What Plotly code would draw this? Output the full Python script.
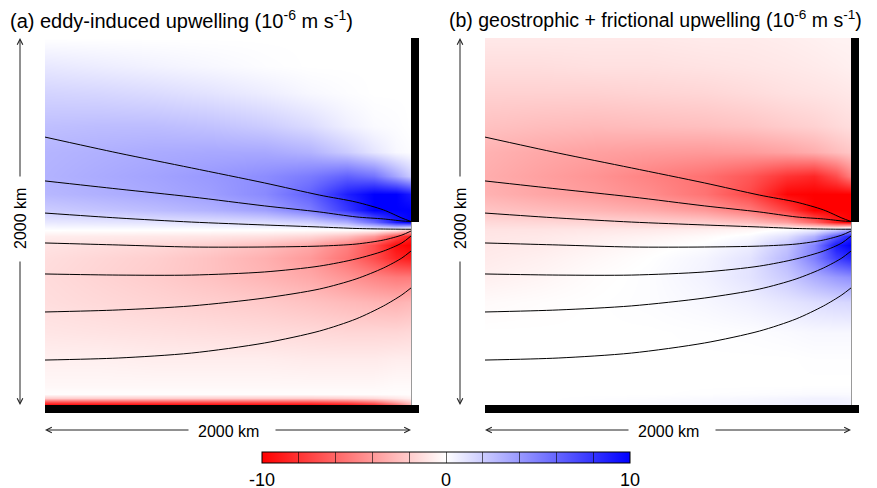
import plotly.graph_objects as go

# ---------------- data ----------------
X_KM = [0, 300, 600, 900, 1200, 1450, 1650, 1800, 1920, 2000]
Y_KM = [2000, 1850, 1700, 1520, 1380, 1250, 1150, 1060, 1000, 960, 920, 870,
        800, 700, 560, 400, 250, 110, 60, 38, 18, 0]

# (a) eddy-induced upwelling, 1e-6 m/s, rows follow Y_KM (top -> bottom)
W_EDDY = [
    [0.0, 0.0, 0.0, 0.0, 0.0, 0.0, 0.0, 0.0, 0.0, 0.0],
    [0.9, 0.7, 0.5, 0.3, 0.1, 0.0, 0.0, 0.0, 0.0, 0.0],
    [1.7, 1.6, 1.4, 1.1, 0.7, 0.3, 0.1, 0.0, 0.0, 0.0],
    [2.5, 2.6, 2.6, 2.4, 2.0, 1.4, 0.6, 0.2, 0.1, 0.0],
    [2.9, 3.1, 3.3, 3.4, 3.4, 3.0, 2.0, 1.0, 0.3, 0.1],
    [3.0, 3.3, 3.6, 4.0, 4.5, 5.2, 6.2, 5.5, 3.5, 2.0],
    [2.8, 3.1, 3.4, 3.8, 4.6, 6.2, 8.8, 10, 10, 9.0],
    [2.0, 2.3, 2.6, 3.0, 3.7, 5.1, 7.8, 10, 10, 10],
    [0.9, 1.0, 1.1, 1.2, 1.4, 1.9, 3.2, 5.8, 9.0, 10],
    [0.1, 0.1, 0.1, 0.1, 0.1, 0.1, 0.2, 0.3, 0.0, -1.5],
    [-0.7, -0.8, -0.9, -1.0, -1.2, -1.6, -2.5, -4.0, -7.0, -9.0],
    [-1.1, -1.3, -1.5, -1.9, -2.5, -3.4, -5.0, -7.0, -9.5, -10],
    [-1.3, -1.6, -1.9, -2.4, -3.1, -4.0, -5.5, -7.0, -8.5, -9.0],
    [-1.4, -1.7, -2.0, -2.4, -2.9, -3.4, -4.2, -4.8, -5.2, -5.2],
    [-1.3, -1.5, -1.7, -1.9, -2.1, -2.4, -2.7, -2.9, -3.0, -2.8],
    [-1.0, -1.1, -1.2, -1.3, -1.4, -1.5, -1.6, -1.6, -1.6, -1.5],
    [-0.6, -0.6, -0.7, -0.7, -0.7, -0.8, -0.8, -0.8, -0.7, -0.7],
    [-0.3, -0.3, -0.3, -0.3, -0.3, -0.3, -0.3, -0.3, -0.2, -0.2],
    [-0.1, -0.1, -0.1, -0.1, -0.1, -0.1, -0.1, -0.1, -0.1, -0.1],
    [-2.0, -2.0, -2.0, -2.0, -2.0, -2.0, -1.8, -1.5, -1.0, -0.6],
    [-7.0, -7.0, -7.0, -7.0, -7.0, -7.0, -6.5, -5.5, -3.5, -2.0],
    [-10, -10, -10, -10, -10, -10, -9.5, -8.5, -6.0, -3.0],
]

# (b) geostrophic + frictional upwelling, 1e-6 m/s
W_GEO = [
    [-0.9, -0.9, -0.9, -0.9, -0.8, -0.8, -0.7, -0.6, -0.5, -0.5],
    [-1.3, -1.3, -1.2, -1.2, -1.1, -1.0, -0.9, -0.8, -0.7, -0.6],
    [-1.8, -1.8, -1.8, -1.7, -1.6, -1.4, -1.2, -1.1, -1.0, -0.9],
    [-2.4, -2.6, -2.7, -2.6, -2.5, -2.3, -2.0, -1.8, -1.5, -1.3],
    [-3.0, -3.4, -3.7, -3.9, -4.0, -3.9, -3.6, -3.2, -2.6, -2.2],
    [-3.2, -3.7, -4.2, -4.9, -5.6, -6.6, -8.0, -8.5, -7.0, -5.0],
    [-3.0, -3.5, -3.9, -4.5, -5.5, -7.2, -9.8, -10, -10, -10],
    [-2.3, -2.6, -2.9, -3.3, -4.0, -5.2, -7.5, -10, -10, -10],
    [-1.5, -1.6, -1.7, -1.8, -2.0, -2.6, -3.8, -6.0, -9.0, -10],
    [-1.1, -1.1, -1.0, -0.9, -0.7, -0.4, 0.0, 0.4, 1.5, 3.0],
    [-1.0, -0.9, -0.7, -0.5, -0.2, 0.2, 1.2, 3.0, 6.5, 9.0],
    [-0.9, -0.8, -0.5, -0.2, 0.1, 0.7, 2.3, 4.8, 9.0, 10],
    [-0.8, -0.6, -0.3, 0.0, 0.4, 1.1, 2.8, 5.0, 7.5, 8.5],
    [-0.6, -0.4, -0.1, 0.1, 0.5, 1.1, 2.1, 3.2, 4.0, 4.4],
    [-0.2, -0.1, 0.0, 0.1, 0.3, 0.6, 1.0, 1.3, 1.5, 1.6],
    [0.0, 0.0, 0.0, 0.0, 0.05, 0.1, 0.2, 0.3, 0.3, 0.3],
    [0.0, 0.0, 0.0, 0.0, 0.0, 0.0, 0.0, 0.05, 0.05, 0.05],
    [0.0, 0.0, 0.0, 0.0, 0.0, 0.0, 0.0, 0.0, 0.0, 0.0],
    [0.0, 0.0, 0.0, 0.0, 0.05, 0.1, 0.15, 0.2, 0.2, 0.2],
    [0.0, 0.0, 0.05, 0.1, 0.2, 0.3, 0.4, 0.5, 0.5, 0.4],
    [0.0, 0.0, 0.1, 0.2, 0.3, 0.4, 0.5, 0.6, 0.6, 0.5],
    [0.0, 0.0, 0.1, 0.2, 0.3, 0.4, 0.5, 0.6, 0.6, 0.5],
]

# streamlines (km), y at the STREAM_X positions
STREAM_X = [0, 400, 800, 1200, 1500, 1700, 1850, 1950, 2000]
STREAM_1 = [1460, 1373, 1292, 1210, 1144, 1106, 1063, 1019, 1000]
STREAM_2 = [1221, 1177, 1134, 1085, 1052, 1025, 1014, 1003, 1000]
STREAM_3 = [1046, 1019, 997, 981, 970, 962, 959, 958, 958]
STREAM_4 = [883, 872, 861, 861, 866, 877, 899, 926, 948]
STREAM_5 = [714, 708, 708, 725, 757, 796, 839, 883, 921]
STREAM_6 = [507, 518, 540, 583, 632, 687, 747, 801, 839]
STREAM_7 = [245, 256, 283, 338, 403, 469, 540, 600, 638]
STREAMS = [STREAM_1, STREAM_2, STREAM_3, STREAM_4, STREAM_5, STREAM_6, STREAM_7]

TITLES = ["(a) eddy-induced upwelling (10<sup>-6</sup> m s<sup>-1</sup>)",
          "(b) geostrophic + frictional upwelling (10<sup>-6</sup> m s<sup>-1</sup>)"]
TITLE_SIZES = [20, 19.5]
SCALE_LABEL = "2000 km"
CB_TICKS = [-10, -8, -6, -4, -2, 0, 2, 4, 6, 8, 10]
CB_LABELS = ["-10", "", "", "", "", "0", "", "", "", "", "10"]

# ---------------- layout constants ----------------
OFF = 8                      # page body margin added by the browser
FIG_W = 877 - OFF
FIG_H = 488 - OFF + 40       # extra room below the window so the colorbar never pushes margins
FONT = "Liberation Sans, Arial, Helvetica, sans-serif"
PANEL_X = [(45, 411), (485, 851)]   # pixel extents of the two domains (window coords)
PANEL_Y = (38, 405)


def px(v):
    return (v - OFF) / FIG_W


def py(v):
    return 1 - (v - OFF) / FIG_H


COLORSCALE = [[0.0, "rgb(255,0,0)"], [0.5, "rgb(255,255,255)"], [1.0, "rgb(0,0,255)"]]

fig = go.Figure()
fields = [W_EDDY, W_GEO]
for i, field in enumerate(fields):
    xa = "x" if i == 0 else "x2"
    ya = "y" if i == 0 else "y2"
    hm = dict(
        x=X_KM, y=Y_KM[::-1], z=field[::-1],
        zmin=-10, zmax=10, colorscale=COLORSCALE, zsmooth="best",
        xaxis=xa, yaxis=ya, hoverinfo="skip",
        showscale=(i == 0),
    )
    if i == 0:
        hm["colorbar"] = dict(
            orientation="h", x=px(446), xanchor="center",
            y=py(452), yanchor="top",
            len=368, lenmode="pixels", thickness=11, thicknessmode="pixels",
            xpad=0, ypad=0, outlinewidth=1, outlinecolor="black",
            tickvals=CB_TICKS, ticktext=CB_LABELS,
            ticks="inside", ticklen=11, tickwidth=1, tickcolor="rgba(0,0,0,0.6)",
            tickfont=dict(family=FONT, size=18, color="black"),
        )
    fig.add_trace(go.Heatmap(**hm))
    for s in STREAMS:
        fig.add_trace(go.Scatter(
            x=STREAM_X, y=s, mode="lines", xaxis=xa, yaxis=ya,
            line=dict(color="black", width=1, shape="spline", smoothing=0.8),
            showlegend=False, hoverinfo="skip"))

axis_common = dict(range=[0, 2000], showgrid=False, zeroline=False,
                   showticklabels=False, ticks="", showline=False, fixedrange=True)
fig.update_layout(
    width=FIG_W, height=FIG_H, autosize=False,
    margin=dict(l=0, r=0, t=0, b=0, autoexpand=False),
    paper_bgcolor="white", plot_bgcolor="white",
    showlegend=False,
    font=dict(family=FONT, color="black"),
    xaxis=dict(domain=[px(PANEL_X[0][0]), px(PANEL_X[0][1])], anchor="y", **axis_common),
    yaxis=dict(domain=[py(PANEL_Y[1]), py(PANEL_Y[0])], anchor="x", **axis_common),
    xaxis2=dict(domain=[px(PANEL_X[1][0]), px(PANEL_X[1][1])], anchor="y2", **axis_common),
    yaxis2=dict(domain=[py(PANEL_Y[1]), py(PANEL_Y[0])], anchor="x2", **axis_common),
)

shapes = []
annotations = []
for i, (x0, x1) in enumerate(PANEL_X):
    # coastline walls
    shapes.append(dict(type="rect", xref="paper", yref="paper", layer="above",
                       x0=px(x1), x1=px(x1 + 8), y0=py(222), y1=py(38),
                       fillcolor="black", line=dict(width=0)))
    shapes.append(dict(type="rect", xref="paper", yref="paper", layer="above",
                       x0=px(x0), x1=px(x1 + 8), y0=py(413), y1=py(405),
                       fillcolor="black", line=dict(width=0)))
    shapes.append(dict(type="line", xref="paper", yref="paper", layer="above",
                       x0=px(x1 + 0.5), x1=px(x1 + 0.5), y0=py(405), y1=py(222),
                       line=dict(color="#9a9a9a", width=1)))
    # title
    annotations.append(dict(text=TITLES[i], xref="paper", yref="paper",
                            x=px(8 + 439 * i), y=py(19), xanchor="left", yanchor="middle",
                            showarrow=False, font=dict(size=TITLE_SIZES[i], family=FONT)))
    # vertical scale arrow
    ax = x0 - 25
    annotations.append(dict(text=SCALE_LABEL, xref="paper", yref="paper",
                            x=px(ax), y=py(219), textangle=-90, showarrow=False,
                            xanchor="center", yanchor="middle",
                            font=dict(size=16, family=FONT)))
    annotations.append(dict(text="", xref="paper", yref="paper", x=px(ax), y=py(38),
                            ax=0, ay=140, showarrow=True, arrowhead=5, arrowsize=1.1,
                            arrowwidth=1, arrowcolor="#222", standoff=0, startstandoff=0))
    annotations.append(dict(text="", xref="paper", yref="paper", x=px(ax), y=py(405),
                            ax=0, ay=-145, showarrow=True, arrowhead=5, arrowsize=1.1,
                            arrowwidth=1, arrowcolor="#222", standoff=0, startstandoff=0))
    # horizontal scale arrow
    cx = (x0 + x1) / 2
    annotations.append(dict(text=SCALE_LABEL, xref="paper", yref="paper",
                            x=px(cx), y=py(431), showarrow=False,
                            xanchor="center", yanchor="middle",
                            font=dict(size=16, family=FONT)))
    annotations.append(dict(text="", xref="paper", yref="paper", x=px(x0), y=py(430),
                            ax=145, ay=0, showarrow=True, arrowhead=5, arrowsize=1.1,
                            arrowwidth=1, arrowcolor="#222", standoff=0, startstandoff=0))
    annotations.append(dict(text="", xref="paper", yref="paper", x=px(x1), y=py(430),
                            ax=-137, ay=0, showarrow=True, arrowhead=5, arrowsize=1.1,
                            arrowwidth=1, arrowcolor="#222", standoff=0, startstandoff=0))

fig.update_layout(shapes=shapes, annotations=annotations)
fig.write_html("out.html")
